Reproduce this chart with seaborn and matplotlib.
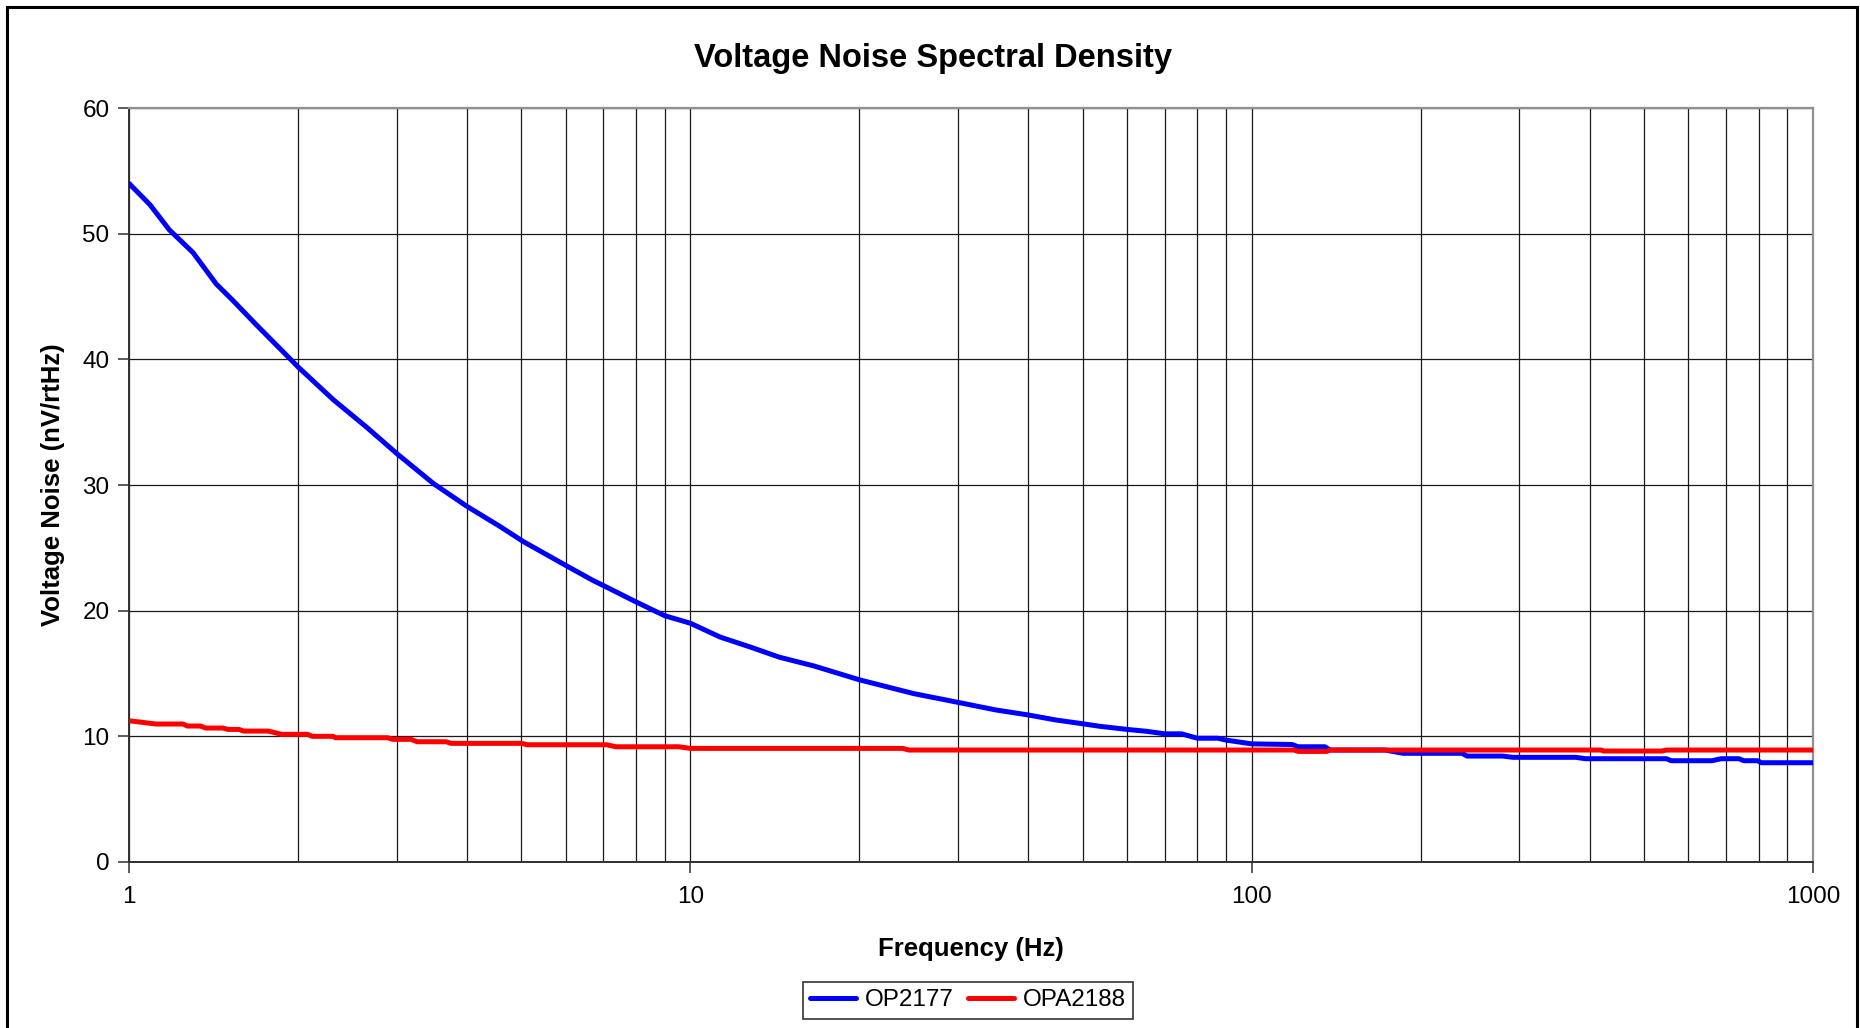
import numpy as np
import pandas as pd
import seaborn as sns
import matplotlib
matplotlib.use("Agg")
import matplotlib.pyplot as plt
from matplotlib.patches import Rectangle
from matplotlib.ticker import LogLocator, NullFormatter, FixedLocator, FixedFormatter

# OP2177 voltage noise
op2177_freq = [1.0, 1.09, 1.18, 1.30, 1.43, 1.53, 1.69, 1.96, 2.0, 2.31, 2.65, 3.0,
               3.49, 4.0, 4.58, 5.04, 6.0, 6.71, 7.0, 8.0, 9.0, 10.0, 11.3, 12.8,
               14.4, 16.6, 20, 25, 30, 35, 40, 44.8, 50, 53.6, 60, 65, 70, 75, 80,
               87, 90, 100, 118, 121, 135, 138, 173, 186, 237, 242, 280, 292, 378,
               393, 548, 559, 661, 686, 738, 753, 797, 809, 1000]
op2177_noise = [54.0, 52.3, 50.3, 48.5, 46.0, 44.7, 42.7, 39.8, 39.4, 36.8, 34.6, 32.5,
                30.1, 28.3, 26.7, 25.5, 23.6, 22.4, 22.0, 20.7, 19.6, 19.0, 17.9, 17.1,
                16.3, 15.6, 14.5, 13.4, 12.7, 12.1, 11.7, 11.3, 11.0, 10.8, 10.55, 10.4,
                10.2, 10.2, 9.85, 9.85, 9.7, 9.4, 9.35, 9.17, 9.17, 8.91, 8.91, 8.65,
                8.65, 8.43, 8.43, 8.33, 8.33, 8.22, 8.22, 8.06, 8.06, 8.22, 8.22, 8.06,
                8.06, 7.9, 7.9]

# OPA2188 voltage noise
opa2188_freq = [1.0, 1.117, 1.248, 1.27, 1.34, 1.37, 1.47, 1.5, 1.57, 1.6, 1.77, 1.87,
                2.08, 2.12, 2.31, 2.33, 2.89, 2.95, 3.18, 3.26, 3.67, 3.75, 5.01, 5.12,
                7.1, 7.36, 9.54, 10.0, 23.9, 24.5, 119, 121, 136, 138, 420, 423, 538,
                548, 1000]
opa2188_noise = [11.24, 10.98, 10.98, 10.82, 10.82, 10.66, 10.66, 10.55, 10.55, 10.42,
                 10.42, 10.16, 10.16, 10.0, 10.0, 9.89, 9.89, 9.76, 9.76, 9.57, 9.57,
                 9.44, 9.44, 9.33, 9.33, 9.17, 9.17, 9.04, 9.04, 8.91, 8.91, 8.8, 8.8,
                 8.91, 8.91, 8.83, 8.83, 8.91, 8.91]

series_names = ["OP2177", "OPA2188"]
series_colors = ["#0000FF", "#FF0000"]
x_ticks = [1, 10, 100, 1000]
y_ticks = [0, 10, 20, 30, 40, 50, 60]

df = pd.concat([
    pd.DataFrame({"freq": op2177_freq, "noise": op2177_noise, "part": series_names[0]}),
    pd.DataFrame({"freq": opa2188_freq, "noise": opa2188_noise, "part": series_names[1]}),
], ignore_index=True)

sns.set_style("white")
plt.rcParams["font.family"] = ["Liberation Sans", "DejaVu Sans"]
plt.rcParams["text.color"] = "black"
plt.rcParams["axes.labelcolor"] = "black"
plt.rcParams["xtick.color"] = "black"
plt.rcParams["ytick.color"] = "black"

fig = plt.figure(figsize=(18.6, 10.28), dpi=100)
ax = fig.add_axes([129 / 1860, 1 - 862 / 1028, (1813 - 129) / 1860, (862 - 108) / 1028])

sns.lineplot(data=df, x="freq", y="noise", hue="part", palette=series_colors,
             hue_order=series_names, estimator=None, sort=False, linewidth=3.6,
             ax=ax, zorder=3)

ax.set_xscale("log")
ax.set_xlim(1, 1000)
ax.set_ylim(0, 60)

ax.xaxis.set_major_locator(FixedLocator(x_ticks))
ax.xaxis.set_major_formatter(FixedFormatter([str(t) for t in x_ticks]))
ax.xaxis.set_minor_locator(LogLocator(base=10, subs=np.arange(2, 10)))
ax.xaxis.set_minor_formatter(NullFormatter())
ax.set_yticks(y_ticks)

ax.grid(which="major", axis="both", color="#1a1a1a", linewidth=0.9, zorder=0)
ax.grid(which="minor", axis="x", color="#1a1a1a", linewidth=0.9, zorder=0)

ax.tick_params(axis="x", which="major", direction="out", length=8, width=1.2,
               color="#404040", labelcolor="black", labelsize=17.5, pad=9, bottom=True)
ax.tick_params(axis="x", which="minor", length=0)
ax.tick_params(axis="y", which="major", direction="out", length=8, width=1.2,
               color="#404040", labelcolor="black", labelsize=17.5, pad=6, left=True)

for side in ["left", "bottom"]:
    ax.spines[side].set_color("#303030")
    ax.spines[side].set_linewidth(1.4)
for side in ["top", "right"]:
    ax.spines[side].set_color("#909090")
    ax.spines[side].set_linewidth(1.6)

ax.set_xlabel("Frequency (Hz)", fontsize=18.5, fontweight="bold", color="black")
ax.xaxis.label.set_va("center")
ax.xaxis.set_label_coords(0.5, (862 - 949) / 754)
ax.set_ylabel("Voltage Noise (nV/rtHz)", fontsize=18.5, fontweight="bold", color="black")
ax.yaxis.label.set_va("center")
ax.yaxis.set_label_coords((53 - 129) / 1684, 0.5)

fig.text(0.5016, 1 - 59 / 1028, "Voltage Noise Spectral Density", fontsize=23.5,
         fontweight="bold", ha="center", va="center", color="black")

ax.get_legend().remove()
handles = [plt.Line2D([], [], color=c, linewidth=3.6) for c in series_colors]
leg = fig.legend(handles, series_names, loc="upper center",
                 bbox_to_anchor=(968 / 1860, 1 - 982 / 1028), ncol=2, fontsize=17.5,
                 frameon=True, fancybox=False, edgecolor="#000000", handlelength=1.9,
                 handletextpad=0.35, columnspacing=0.6, borderpad=0.3,
                 borderaxespad=0)
leg.get_frame().set_linewidth(1.2)
for t in leg.get_texts():
    t.set_color("black")

# chart area outer frame (bottom edge runs off the image)
fig.patches.append(Rectangle((7 / 1860, -0.05), (1857 - 7) / 1860, 1 - 7 / 1028 + 0.05,
                             transform=fig.transFigure, fill=False, edgecolor="black",
                             linewidth=2.2, clip_on=False))

fig.savefig("out.png", dpi=100)
